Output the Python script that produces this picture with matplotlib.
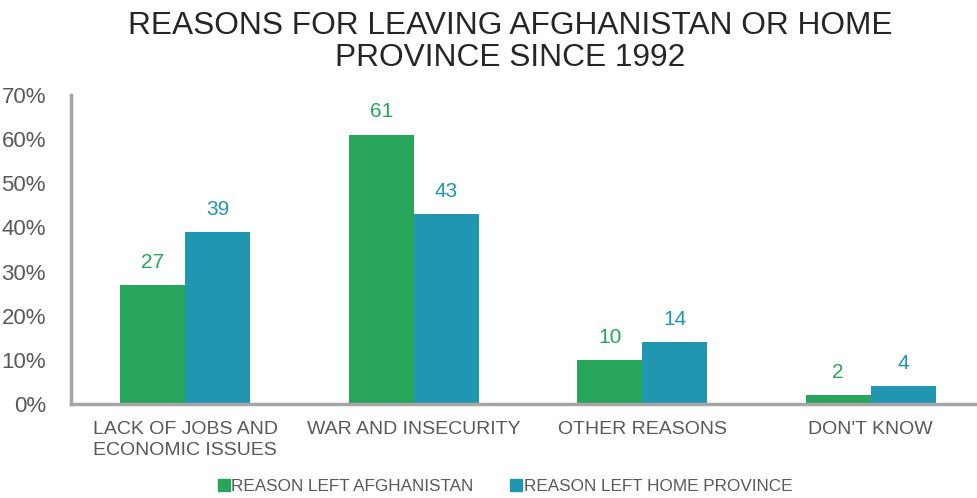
import numpy as np
import matplotlib.pyplot as plt
from matplotlib.patches import Patch

plt.rcParams['font.family'] = ['Liberation Sans', 'DejaVu Sans']

categories = ["LACK OF JOBS AND\nECONOMIC ISSUES", "WAR AND INSECURITY", "OTHER REASONS", "DON'T KNOW"]
left_afghanistan = [27, 61, 10, 2]
left_province = [39, 43, 14, 4]
series_names = ["REASON LEFT AFGHANISTAN", "REASON LEFT HOME PROVINCE"]

green = '#27a55a'
blue = '#2196b1'
text_gray = '#595959'
axis_gray = '#a6a6a6'

fig = plt.figure(figsize=(9.77, 4.98), dpi=100)
ax = fig.add_axes([0.0727, 0.1888, 0.9273, 0.6205])

x = np.arange(len(categories))
w = 0.285
ax.bar(x - w / 2, left_afghanistan, w, color=green)
ax.bar(x + w / 2, left_province, w, color=blue)

# value labels above each bar
for xi, v in zip(x, left_afghanistan):
    ax.text(xi - w / 2, v + 3, str(v), ha='center', va='bottom', fontsize=15, color=green)
for xi, v in zip(x, left_province):
    ax.text(xi + w / 2, v + 3, str(v), ha='center', va='bottom', fontsize=15, color=blue)

ax.set_xlim(-0.5, 3.465)
ax.set_ylim(0, 70)
ax.set_yticks(range(0, 71, 10))
ax.set_yticklabels([f"{t}%" for t in range(0, 71, 10)], fontsize=16, color=text_gray)
ax.set_xticks(x)
ax.set_xticklabels(categories, fontsize=14, color=text_gray, linespacing=1.35)
ax.tick_params(length=0, axis='y', pad=18)
ax.tick_params(length=0, axis='x', pad=12)

for s in ['top', 'right']:
    ax.spines[s].set_visible(False)
for s in ['left', 'bottom']:
    ax.spines[s].set_color(axis_gray)
    ax.spines[s].set_linewidth(2.5)

fig.suptitle("REASONS FOR LEAVING AFGHANISTAN OR HOME\nPROVINCE SINCE 1992",
             x=0.522, y=0.978, fontsize=22.8, color='#262626', linespacing=1.1)

handles = [Patch(color=green), Patch(color=blue)]
fig.legend(handles, series_names, loc='lower center', bbox_to_anchor=(0.517, -0.022),
           ncol=2, frameon=False, fontsize=12.3, labelcolor=text_gray,
           handlelength=0.7, handleheight=0.7, handletextpad=0.1, columnspacing=2.15)

fig.savefig('out.png', dpi=100)
